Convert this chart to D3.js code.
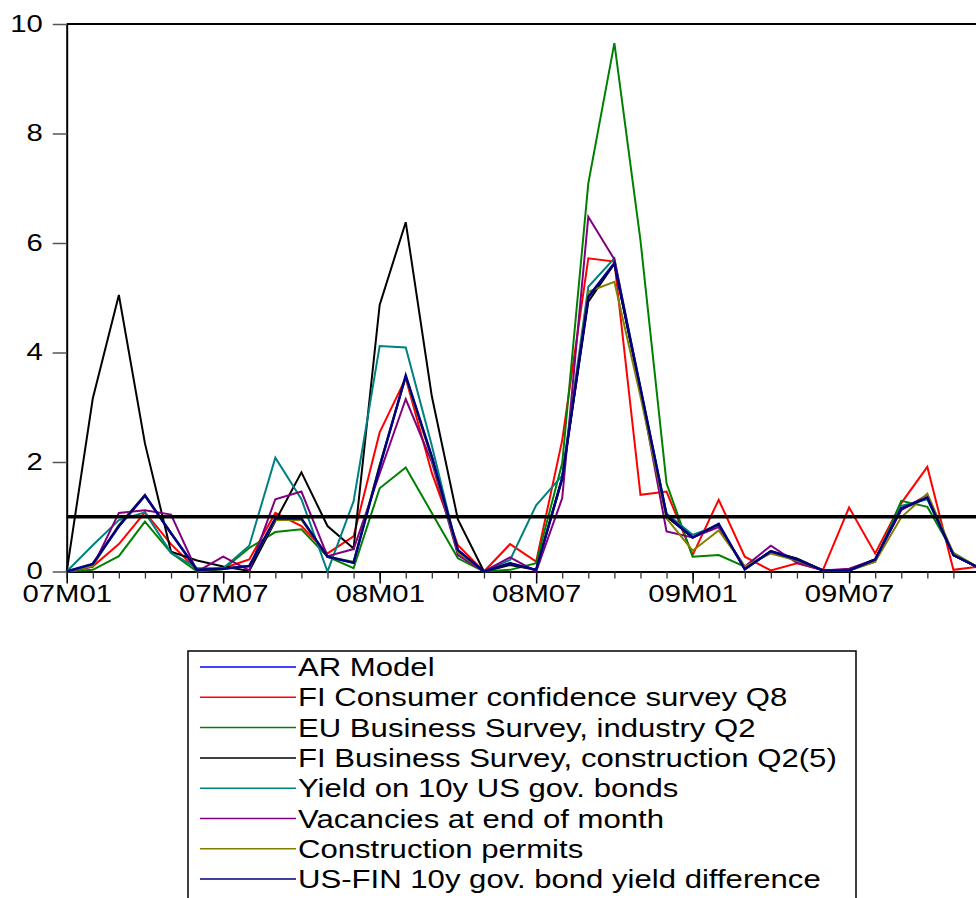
<!DOCTYPE html>
<html>
<head>
<meta charset="utf-8">
<script src="https://cdn.jsdelivr.net/npm/d3@7"></script>
<style>
  body { margin: 0; background: #fff; }
  text { font-family: "Liberation Sans", Arial, sans-serif; fill: #000; }
</style>
</head>
<body>
<svg id="chart"></svg>
<script>
// monthly periods 2007M01 .. 2009M12
const periods = [
  "07M01","07M02","07M03","07M04","07M05","07M06","07M07","07M08","07M09","07M10","07M11","07M12",
  "08M01","08M02","08M03","08M04","08M05","08M06","08M07","08M08","08M09","08M10","08M11","08M12",
  "09M01","09M02","09M03","09M04","09M05","09M06","09M07","09M08","09M09","09M10","09M11","09M12"
];
const labelTicks = ["07M01","07M07","08M01","08M07","09M01","09M07"];
const yTicks = [0, 2, 4, 6, 8, 10];
const threshold = 1;

const arModel      = [0,0.13,0.82,1.38,0.70,0.03,0.05,0.10,0.96,0.96,0.27,0.16,1.92,3.56,2.10,0.39,0,0.15,0.03,1.70,5.00,5.62,3.34,1.03,0.62,0.86,0.04,0.37,0.22,0.02,0.02,0.22,1.14,1.34,0.30,0.06];
const fiConsumer   = [0,0.09,0.50,1.08,0.50,0.03,0.06,0.22,1.07,0.83,0.33,0.64,2.54,3.53,1.80,0.48,0,0.50,0.18,2.40,5.72,5.66,1.40,1.46,0.30,1.31,0.27,0.02,0.15,0.03,1.17,0.33,1.25,1.91,0.03,0.09];
const euIndustry   = [0,0.03,0.28,0.91,0.34,0,0.04,0.43,0.72,0.77,0.27,0.06,1.52,1.90,1.07,0.24,0,0.03,0.15,1.98,7.09,9.65,6.05,1.61,0.27,0.30,0.09,0.35,0.20,0.02,0.02,0.18,1.29,1.18,0.34,0.06];
const fiConstruct  = [0,3.16,5.05,2.34,0.36,0.20,0.09,0.01,0.92,1.81,0.83,0.42,4.87,6.38,3.20,0.95,0,0.12,0.03,1.72,4.93,5.62,3.30,1.00,0.62,0.85,0.05,0.37,0.24,0.02,0.02,0.22,1.15,1.35,0.30,0.06];
const usYield      = [0,0.48,0.94,1.08,0.34,0.06,0.06,0.47,2.08,1.32,0,1.28,4.12,4.09,2.30,0.35,0,0.21,1.21,1.75,5.20,5.72,3.35,1.06,0.67,0.85,0.05,0.37,0.22,0.02,0.02,0.22,1.20,1.32,0.30,0.06];
const vacancies    = [0,0.09,1.07,1.12,1.04,0,0.27,0.02,1.32,1.46,0.28,0.41,1.79,3.15,2.00,0.30,0,0.26,0,1.34,6.48,5.70,3.30,0.73,0.62,0.81,0.09,0.47,0.16,0.02,0.05,0.22,1.12,1.40,0.30,0.06];
const permits      = [0,0.10,0.85,1.40,0.70,0.03,0.05,0.10,0.94,0.94,0.27,0.18,1.95,3.55,2.05,0.35,0,0.15,0.03,1.70,5.11,5.29,3.20,0.97,0.38,0.75,0.09,0.33,0.20,0.02,0.02,0.18,0.99,1.42,0.33,0.06];
const yieldDiff    = [0,0.14,0.83,1.39,0.70,0.03,0.05,0.10,0.97,0.97,0.27,0.16,1.91,3.58,2.10,0.39,0,0.15,0.03,1.70,5.02,5.63,3.35,1.03,0.62,0.87,0.04,0.37,0.22,0.02,0.02,0.22,1.15,1.35,0.30,0.06];

const seriesNames = [
  "AR Model",
  "FI Consumer confidence survey Q8",
  "EU Business Survey, industry Q2",
  "FI Business Survey, construction Q2(5)",
  "Yield on 10y US gov. bonds",
  "Vacancies at end of month",
  "Construction permits",
  "US-FIN 10y gov. bond yield difference"
];
const seriesValues = [arModel, fiConsumer, euIndustry, fiConstruct, usYield, vacancies, permits, yieldDiff];

const colors = ["#0000ff", "#ff0000", "#008000", "#000000", "#008080", "#800080", "#808000", "#000080"];
const widths = [2, 2, 2, 2, 2, 2, 2, 2.5];

const W = 976, H = 898;
const stretch = 1.22;   // EViews export is horizontally stretched

const svg = d3.select("#chart").attr("width", W).attr("height", H);

const x = d3.scalePoint()
  .domain(periods)
  .range([66.7, 979.5]);

const y = d3.scaleLinear()
  .domain([0, 10])
  .range([571.5, 24]);

// top frame line
svg.append("line")
  .attr("x1", x(periods[0])).attr("x2", W + 10)
  .attr("y1", y(10)).attr("y2", y(10))
  .attr("stroke", "#000").attr("stroke-width", 2);

// y axis
const yAxis = svg.append("g")
  .attr("transform", `translate(${x(periods[0])},0)`)
  .call(d3.axisLeft(y).tickValues(yTicks).tickSize(14).tickSizeOuter(0).tickPadding(10));
yAxis.select(".domain").attr("stroke-width", 2);
yAxis.selectAll(".tick line").attr("stroke", "#555").attr("stroke-width", 1.5);
yAxis.selectAll(".tick text")
  .attr("font-size", 24)
  .attr("x", -24 / stretch)
  .attr("dy", "0.3em")
  .attr("transform", `scale(${stretch},1)`);

// x axis: monthly minor ticks
const xMinor = svg.append("g")
  .attr("transform", `translate(0,${y(0)})`)
  .call(d3.axisBottom(x).tickSize(7).tickSizeOuter(0).tickFormat(""));
xMinor.select(".domain").attr("stroke-width", 2);
xMinor.selectAll(".tick line").attr("stroke", "#333").attr("stroke-width", 1.3);

// x axis: labelled ticks every six months
const xMajor = svg.append("g")
  .attr("transform", `translate(0,${y(0)})`)
  .call(d3.axisBottom(x).tickValues(labelTicks).tickSize(12).tickSizeOuter(0).tickPadding(1));
xMajor.select(".domain").remove();
xMajor.selectAll(".tick line").attr("stroke", "#000").attr("stroke-width", 1.5);
xMajor.selectAll(".tick text")
  .attr("font-size", 24)
  .attr("transform", `scale(${stretch},1)`);

// series
const line = d3.line()
  .x((d, i) => x(periods[i]))
  .y(d => y(d));

svg.append("g")
  .selectAll("path")
  .data(seriesValues)
  .join("path")
  .attr("d", line)
  .attr("fill", "none")
  .attr("stroke", (d, i) => colors[i])
  .attr("stroke-width", (d, i) => widths[i])
  .attr("stroke-linejoin", "miter");

// reference line at 1
svg.append("line")
  .attr("x1", x(periods[0])).attr("x2", W + 10)
  .attr("y1", y(threshold)).attr("y2", y(threshold))
  .attr("stroke", "#000").attr("stroke-width", 3.5);

// legend
const legend = svg.append("g");
legend.append("rect")
  .attr("x", 188).attr("y", 651)
  .attr("width", 668).attr("height", 270)
  .attr("fill", "#fff").attr("stroke", "#000").attr("stroke-width", 1.5);

const rows = legend.selectAll("g.row")
  .data(seriesNames)
  .join("g")
  .attr("class", "row")
  .attr("transform", (d, i) => `translate(0,${667 + i * 30.3})`);

rows.append("line")
  .attr("x1", 200).attr("x2", 296)
  .attr("stroke", (d, i) => colors[i])
  .attr("stroke-width", 1.5);

rows.append("text")
  .attr("transform", `translate(298,9) scale(${stretch},1)`)
  .attr("font-size", 25.5)
  .text(d => d);
</script>
</body>
</html>
